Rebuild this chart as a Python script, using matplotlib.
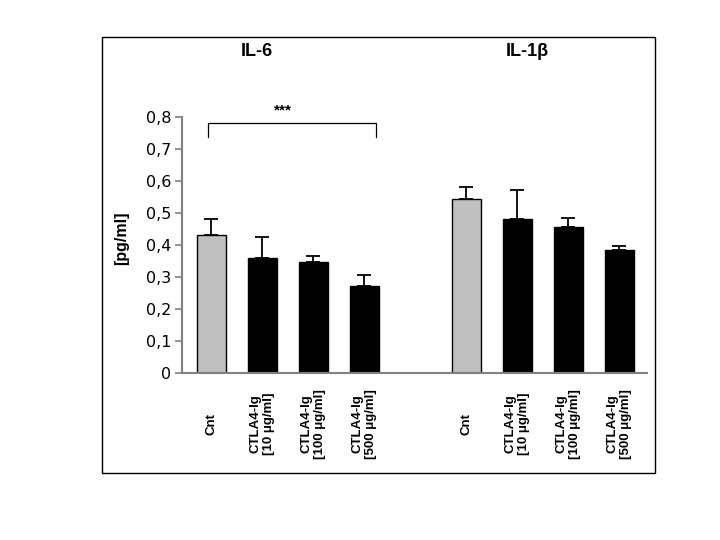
import numpy as np
import matplotlib
matplotlib.use("Agg")
import matplotlib.pyplot as plt
from matplotlib.patches import Rectangle

# Data
labels = ["Cnt", "CTLA4-Ig\n[10 \u03bcg/ml]", "CTLA4-Ig\n[100 \u03bcg/ml]", "CTLA4-Ig\n[500 \u03bcg/ml]"]
il6_mean = [0.430, 0.360, 0.347, 0.272]
il6_err = [0.050, 0.064, 0.018, 0.033]
il1b_mean = [0.543, 0.481, 0.455, 0.385]
il1b_err = [0.039, 0.090, 0.030, 0.010]
bar_colors = ["#c0c0c0", "black", "black", "black"]
yticks = [0, 0.1, 0.2, 0.3, 0.4, 0.5, 0.6, 0.7, 0.8]
ytick_labels = ["0", "0,1", "0,2", "0,3", "0,4", "0,5", "0,6", "0,7", "0,8"]

fig = plt.figure(figsize=(7.2, 5.4), dpi=100)
ax = fig.add_axes([0.253, 0.310, 0.646, 0.473])

# outer frame
fig.patches.append(Rectangle((0.1417, 0.124), 0.768, 0.807, transform=fig.transFigure,
                             fill=False, edgecolor="black", linewidth=1.0))

pos6 = np.arange(4)
pos1 = np.arange(4) + 5
for pos, mean, err in [(pos6, il6_mean, il6_err), (pos1, il1b_mean, il1b_err)]:
    ax.bar(pos, mean, width=0.57, color=bar_colors, edgecolor="black", linewidth=1.0, zorder=2)
    ax.errorbar(pos, mean, yerr=[np.zeros(4), err], fmt="none", ecolor="black",
                elinewidth=1.3, capsize=5, capthick=1.3, zorder=1)

ax.set_xlim(-0.57, 8.55)
ax.set_ylim(0, 0.8)
ax.set_yticks(yticks)
ax.set_yticklabels(ytick_labels, fontfamily="DejaVu Sans", fontsize=11.5)
ax.tick_params(axis="y", direction="out", length=5, width=1.2, color="#808080", pad=3)

ax.set_xticks(list(pos6) + list(pos1))
ax.set_xticklabels(labels + labels, rotation=90, ha="center", va="center",
                   multialignment="center", fontfamily="Liberation Sans",
                   fontweight="bold", fontsize=9.5)
ax.tick_params(axis="x", length=0, pad=37)

for s in ["top", "right"]:
    ax.spines[s].set_visible(False)
for s in ["left", "bottom"]:
    ax.spines[s].set_color("#808080")
    ax.spines[s].set_linewidth(1.5)

fig.text(122 / 720, 1 - 238 / 540, "[pg/ml]", rotation=90, ha="center", va="center",
         fontfamily="Liberation Sans", fontweight="bold", fontsize=11.5)

# panel titles
fig.text(257 / 720, 1 - 52 / 540, "IL-6", ha="center", va="center",
         fontfamily="Liberation Sans", fontweight="bold", fontsize=13)
fig.text(527 / 720, 1 - 52 / 540, "IL-1\u03b2", ha="center", va="center",
         fontfamily="Liberation Sans", fontweight="bold", fontsize=13)

# significance bracket
ax.plot([-0.06, -0.06, 3.24, 3.24], [0.738, 0.783, 0.783, 0.738], color="black",
        linewidth=0.9, clip_on=False)
ax.text(1.41, 0.80, "***", ha="center", va="bottom", fontfamily="Liberation Sans",
        fontweight="bold", fontsize=11)

plt.savefig("out.png", dpi=100)
